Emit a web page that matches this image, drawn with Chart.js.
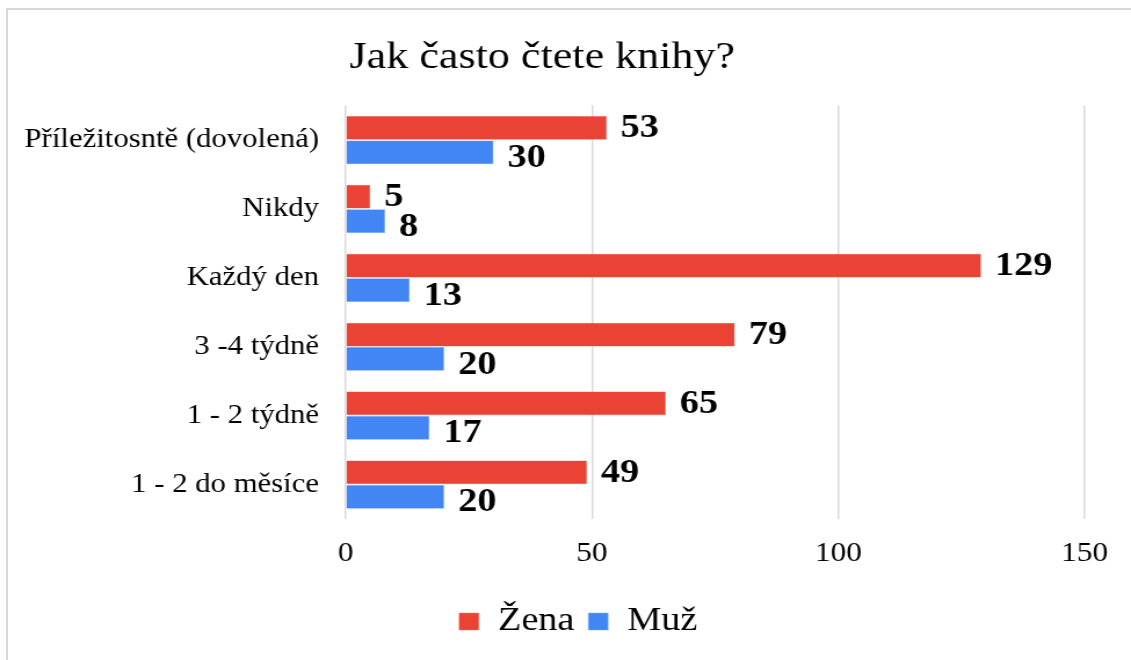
<!DOCTYPE html>
<html>
<head>
<meta charset="utf-8">
<script src="https://cdn.jsdelivr.net/npm/chart.js@4.4.1/dist/chart.umd.min.js"></script>
<style>
  html, body { margin: 0; padding: 0; background: #ffffff; overflow: hidden; }
  #frame { position: absolute; left: 6px; top: 8px; width: 2000px; height: 2000px; border: 2px solid #dadada; box-sizing: border-box; }
  #wrap { position: absolute; left: 0; top: 0; width: 975px; height: 660px; transform: scaleX(1.16); transform-origin: 0 0; }
</style>
</head>
<body>
<div id="frame"></div>
<div id="wrap"><canvas id="c" width="975" height="660"></canvas></div>
<script>
const categories = ['Příležitosntě (dovolená)', 'Nikdy', 'Každý den', '3 -4 týdně', '1 - 2 týdně', '1 - 2 do měsíce'];
const zena = [53, 5, 129, 79, 65, 49];
const muz = [30, 8, 13, 20, 17, 20];
const seriesNames = ['Žena', 'Muž'];
const titleText = 'Jak často čtete knihy?';

const FONT = "Liberation Serif";
Chart.defaults.font.family = FONT;

const labelOffsetY = [1, 6];

const valueLabels = {
  id: 'valueLabels',
  afterDatasetsDraw(chart) {
    const ctx = chart.ctx;
    ctx.save();
    ctx.font = "bold 33px Liberation Serif";
    ctx.fillStyle = '#000000';
    ctx.textAlign = 'left';
    ctx.textBaseline = 'middle';
    chart.data.datasets.forEach((ds, i) => {
      const meta = chart.getDatasetMeta(i);
      meta.data.forEach((el, j) => {
        ctx.fillText(String(ds.data[j]), el.x + 12, el.y + labelOffsetY[i]);
      });
    });
    ctx.restore();
  }
};

const legendShift = {
  id: 'legendShift',
  afterLayout(chart) {
    if (chart.legend) {
      chart.legend.left += 31;
      chart.legend.right += 31;
    }
  }
};

new Chart(document.getElementById('c'), {
  type: 'bar',
  data: {
    labels: categories,
    datasets: [
      { label: seriesNames[0], data: zena, backgroundColor: '#EA4335', borderColor: '#F07A70', borderWidth: 0.5,
        categoryPercentage: 0.71, barPercentage: 0.97 },
      { label: seriesNames[1], data: muz, backgroundColor: '#4285F4', borderColor: '#7AAAF7', borderWidth: 0.5,
        categoryPercentage: 0.71, barPercentage: 0.97 }
    ]
  },
  options: {
    indexAxis: 'y',
    responsive: false,
    animation: false,
    devicePixelRatio: 1,
    layout: { padding: { left: 0, right: 40, top: 0, bottom: 12 } },
    plugins: {
      title: {
        display: true,
        text: titleText,
        color: '#000000',
        font: { family: FONT, size: 38, weight: 'normal' },
        padding: { top: 35, bottom: 25 }
      },
      legend: {
        display: true,
        position: 'bottom',
        labels: {
          color: '#000000',
          font: { family: FONT, size: 33 },
          boxWidth: 17,
          boxHeight: 17,
          padding: 12
        }
      },
      tooltip: { enabled: false }
    },
    scales: {
      x: {
        min: 0,
        max: 150,
        ticks: { stepSize: 50, color: '#000000', font: { family: FONT, size: 27 }, padding: 19 },
        grid: { color: '#d9d9d9', lineWidth: 1.5, drawTicks: false },
        border: { display: false },
        afterFit(scale) { scale.height = 74; }
      },
      y: {
        ticks: { color: '#000000', font: { family: FONT, size: 26.5 }, padding: 23 },
        grid: { display: false, drawTicks: false },
        border: { display: false },
        afterFit(scale) { scale.width = 298; }
      }
    }
  },
  plugins: [valueLabels, legendShift]
});
</script>
</body>
</html>
